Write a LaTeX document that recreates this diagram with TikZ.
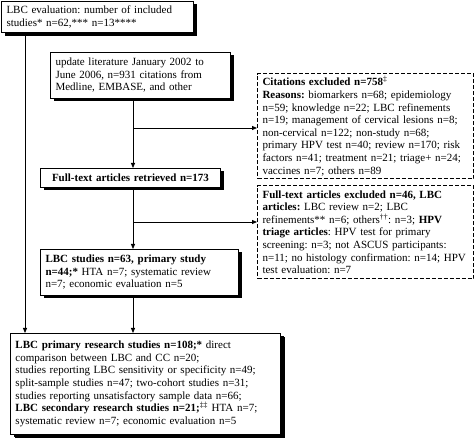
\documentclass[tikz,border=0pt]{standalone}
\usepackage{fontspec}
\setmainfont{Liberation Serif}
\usetikzlibrary{arrows.meta, shadows}
\frenchspacing
\hyphenpenalty=10000

\begin{document}
\begin{tikzpicture}[
    x=1pt, y=1pt,
    box/.style={draw, line width=1pt, fill=white, align=left, anchor=north west,
        inner xsep=5pt, inner ysep=5.5pt, font=\fontsize{11}{12.6}\selectfont,
        drop shadow={shadow xshift=3pt, shadow yshift=-3pt, opacity=1, fill=black}},
    excl/.style={draw, line width=1.1pt, dash pattern=on 4pt off 2pt, fill=white, align=left,
        anchor=north west, inner xsep=5pt, inner ysep=3pt, font=\fontsize{11}{12.6}\selectfont},
    arr/.style={line width=0.8pt, -{Triangle[length=5pt, width=4pt]}}
]
\useasboundingbox (0,0) rectangle (474,-438);

% --- Cajas principales ---
\node[box, text width=182, inner ysep=4.7pt] (eval) at (1,-1)
    {LBC evaluation: number of included\\ studies* n=62,*** n=13****};
\node[box, text width=170] (update) at (50,-52)
    {update literature January 2002 to\\ June 2006, n=931 citations from\\ Medline, EMBASE, and other};
\node[box, text width=170, align=center] (retrieved) at (40,-168)
    {\textbf{Full-text articles retrieved n=173}};
\node[box, text width=188] (studies) at (40,-249)
    {\textbf{LBC studies n=63, primary study}\\
     \textbf{n=44;*} HTA n=7; systematic review\\
     n=7; economic evaluation n=5};
\node[box, text width=260, inner ysep=7.5pt, drop shadow={shadow xshift=4pt, shadow yshift=-4pt, opacity=1, fill=black}] (final) at (10,-333)
    {\textbf{LBC primary research studies n=108;*} direct\\
     comparison between LBC and CC n=20;\\
     studies reporting LBC sensitivity or specificity n=49;\\
     split-sample studies n=47; two-cohort studies n=31;\\
     studies reporting unsatisfactory sample data n=66;\\
     \textbf{LBC secondary research studies n=21;}\textsuperscript{‡‡} HTA n=7;\\
     systematic review n=7; economic evaluation n=5};

% --- Cajas de exclusiones ---
\node[excl, text width=206] (cited) at (257,-73)
    {\textbf{Citations excluded n=758}\textsuperscript{‡}\\
     \textbf{Reasons:} biomarkers n=68; epidemiology\\
     n=59; knowledge n=22; LBC refinements\\
     n=19; management of cervical lesions n=8;\\
     non-cervical n=122; non-study n=68;\\
     primary HPV test n=40; review n=170; risk\\
     factors n=41; treatment n=21; triage+ n=24;\\
     vaccines n=7; others n=89};
\node[excl, text width=206, inner ysep=5pt] (fulltext) at (257,-185)
    {\textbf{Full-text articles excluded n=46, LBC}\\
     \textbf{articles:} LBC review n=2; LBC\\
     refinements** n=6; others\textsuperscript{††}: n=3; \textbf{HPV}\\
     \textbf{triage articles}: HPV test for primary\\
     screening: n=3; not ASCUS participants:\\
     n=11; no histology confirmation: n=14; HPV\\
     test evaluation: n=7};

% --- Conexiones ---
\coordinate (spine) at (133,0);
\coordinate (left) at (25,0);
\coordinate (b1) at (133,-128);
\coordinate (b2) at (133,-222);

\draw[arr] (eval.south -| left) -- (final.north -| left);
\draw[arr] (update.south -| spine) -- (retrieved.north -| spine);
\draw[arr] (b1) -- (b1 -| cited.west);
\draw[arr] (retrieved.south -| spine) -- (studies.north -| spine);
\draw[arr] (b2) -- (b2 -| fulltext.west);
\draw[arr] (studies.south -| spine) -- (final.north -| spine);

\end{tikzpicture}
\end{document}
